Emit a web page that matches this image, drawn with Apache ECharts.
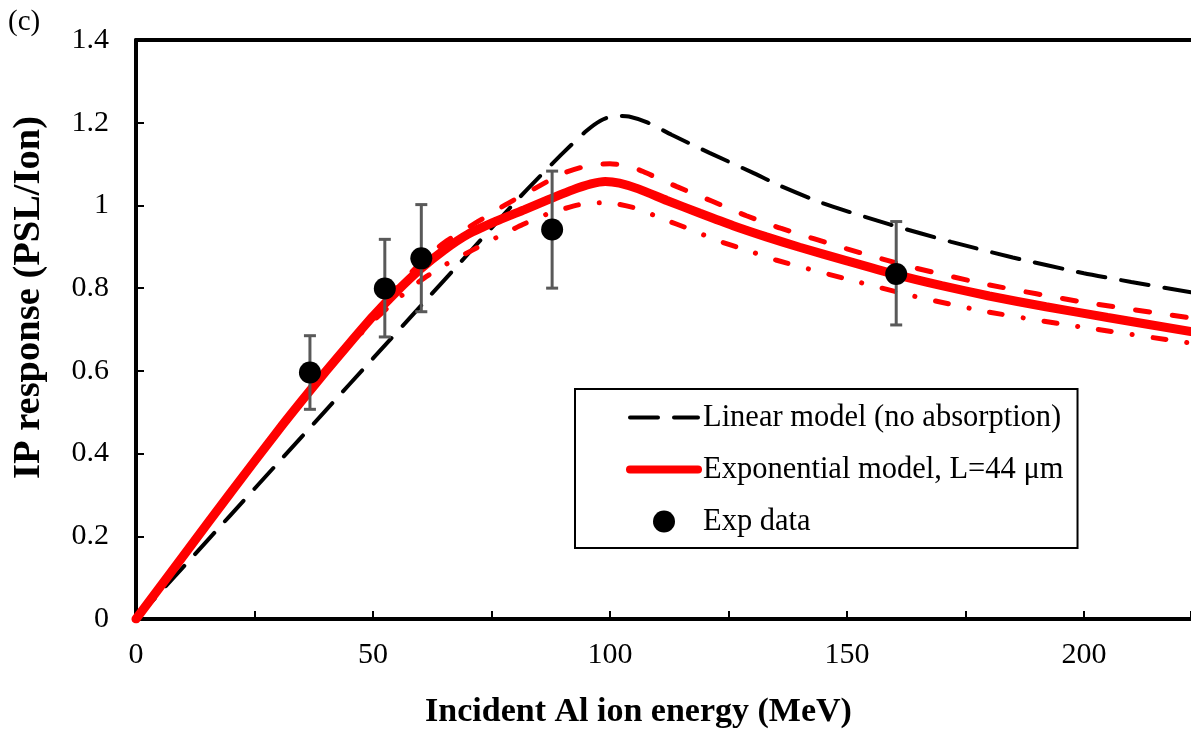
<!DOCTYPE html>
<html>
<head>
<meta charset="utf-8">
<script src="https://cdn.jsdelivr.net/npm/echarts@6/dist/echarts.min.js"></script>
<style>
  html, body { margin: 0; padding: 0; background: #fff; }
  #chart { width: 1191px; height: 734px; }
</style>
</head>
<body>
<div id="chart"></div>
<script>
// linear model (no absorption)
const linearE = [0, 10, 20, 30, 40, 50, 60, 70, 80, 85, 90, 95, 98, 101, 104, 108, 113, 121, 130, 136, 145, 159, 172, 185, 200, 210, 222.6]
const linearY = [0, 0.126, 0.252, 0.378, 0.504, 0.63, 0.756, 0.882, 1.008, 1.068, 1.126, 1.18, 1.205, 1.217, 1.215, 1.2, 1.171, 1.127, 1.08, 1.047, 1.005, 0.954, 0.912, 0.874, 0.836, 0.815, 0.79]

// exponential model, L=44 um
const expE = [0, 10, 20, 30, 35, 40, 45, 50, 55, 60, 65, 70, 76, 82, 87, 92, 96, 99, 102, 106, 112, 119, 126, 133, 140, 150, 160, 170, 180, 192, 205, 222.6]
const expY = [0, 0.153, 0.306, 0.456, 0.528, 0.598, 0.666, 0.732, 0.792, 0.846, 0.892, 0.93, 0.962, 0.99, 1.014, 1.037, 1.052, 1.058, 1.054, 1.04, 1.012, 0.981, 0.951, 0.924, 0.899, 0.866, 0.834, 0.806, 0.781, 0.755, 0.729, 0.695]

// upper / lower bounds
const upperE = [0, 10, 20, 30, 40, 45, 50, 55, 60, 65, 72, 78, 84, 90, 95, 100, 104, 107, 114, 121.6, 128.8, 136, 150, 164, 180, 200, 222.6]
const upperY = [0, 0.153, 0.306, 0.456, 0.598, 0.668, 0.738, 0.802, 0.86, 0.91, 0.96, 1.002, 1.04, 1.077, 1.095, 1.101, 1.095, 1.082, 1.046, 1.01, 0.975, 0.945, 0.895, 0.85, 0.808, 0.766, 0.728]
const lowerE = [0, 10, 20, 30, 40, 45, 50, 55, 60, 65, 71, 76, 81.6, 87, 93.6, 99.3, 105.6, 111, 117, 122.7, 128.8, 135, 150, 164, 180, 200, 222.6]
const lowerY = [0, 0.153, 0.306, 0.456, 0.596, 0.66, 0.72, 0.772, 0.818, 0.855, 0.892, 0.922, 0.954, 0.98, 1.002, 1.007, 0.993, 0.968, 0.942, 0.915, 0.892, 0.868, 0.822, 0.781, 0.742, 0.705, 0.667]

// experimental data
const dataE = [36.7, 52.5, 60.2, 87.8, 160.4]
const dataY = [0.596, 0.799, 0.872, 0.942, 0.834]
const errLow = [0.507, 0.682, 0.743, 0.8, 0.711]
const errHigh = [0.685, 0.918, 1.002, 1.083, 0.961]

const xTicks = [0, 50, 100, 150, 200]

const zip = (xs, ys) => xs.map((x, i) => [x, ys[i]])
const serif = 'Liberation Serif'
const linearDash = [28, 16]

const chart = echarts.init(document.getElementById('chart'))

chart.setOption({
  animation: false,
  graphic: [{
    type: 'text',
    left: 8,
    top: 8,
    style: { text: '(c)', font: '29px "Liberation Serif"', fill: '#000' }
  }],
  grid: {
    left: 136,
    right: 0,
    top: 40,
    bottom: 113
  },
  legend: {
    orient: 'vertical',
    left: 575,
    top: 389,
    padding: [13, 14, 11, 51],
    itemGap: 21,
    itemWidth: 68,
    itemHeight: 22,
    itemTextGap: 9,
    backgroundColor: '#fff',
    borderColor: '#000',
    borderWidth: 2,
    borderRadius: 0,
    textStyle: { fontFamily: serif, fontSize: 30.5, color: '#000' },
    data: [
      {
        name: 'Linear model (no absorption)',
        itemStyle: { opacity: 0 },
        lineStyle: { color: '#000', width: 4, type: linearDash, cap: 'round' }
      },
      {
        name: 'Exponential model, L=44 μm',
        itemStyle: { opacity: 0 },
        lineStyle: { color: '#ff0000', width: 8, type: 'solid', cap: 'round' }
      },
      { name: 'Exp data' }
    ]
  },
  xAxis: [{
    type: 'value',
    min: 0,
    max: 222.6,
    interval: 50,
    name: 'Incident Al ion energy (MeV)',
    nameLocation: 'middle',
    nameGap: 76,
    nameTextStyle: { fontFamily: serif, fontSize: 34, fontWeight: 'bold', color: '#000', padding: [0, 50, 0, 0] },
    axisLine: { lineStyle: { color: '#000', width: 4 } },
    axisTick: { inside: true, length: 8, lineStyle: { color: '#000', width: 2 } },
    minorTick: { show: true, splitNumber: 2, length: 8, lineStyle: { color: '#000', width: 2 } },
    splitLine: { show: false },
    axisLabel: {
      fontFamily: serif, fontSize: 30, color: '#000', margin: 21, showMaxLabel: false,
      formatter: v => xTicks.includes(v) ? String(v) : ''
    }
  }, {
    type: 'value',
    position: 'top',
    min: 0,
    max: 222.6,
    axisLine: { show: true, lineStyle: { color: '#000', width: 4 } },
    axisTick: { show: false },
    axisLabel: { show: false },
    splitLine: { show: false }
  }],
  yAxis: {
    type: 'value',
    min: 0,
    max: 1.4,
    interval: 0.2,
    name: 'IP response (PSL/Ion)',
    nameLocation: 'middle',
    nameGap: 87,
    nameTextStyle: { fontFamily: serif, fontSize: 38.5, fontWeight: 'bold', color: '#000', padding: [0, 0, 0, 64] },
    axisLine: { show: true, lineStyle: { color: '#000', width: 4 } },
    axisTick: { show: true, inside: true, length: 8, lineStyle: { color: '#000', width: 2 } },
    splitLine: { show: false },
    axisLabel: { fontFamily: serif, fontSize: 30, color: '#000', margin: 27 }
  },
  series: [
    {
      name: 'Linear model (no absorption)',
      type: 'line',
      data: zip(linearE, linearY),
      symbol: 'none',
      smooth: 0.2,
      color: '#000',
      lineStyle: { color: '#000', width: 4, type: linearDash, cap: 'round' },
      z: 2
    },
    {
      name: 'upper',
      type: 'line',
      data: zip(upperE, upperY),
      symbol: 'none',
      smooth: 0.2,
      lineStyle: { color: '#ff0000', width: 5, type: [14, 23], cap: 'round' },
      z: 2
    },
    {
      name: 'lower',
      type: 'line',
      data: zip(lowerE, lowerY),
      symbol: 'none',
      smooth: 0.2,
      lineStyle: { color: '#ff0000', width: 5, type: [13, 21, 0.1, 21], cap: 'round' },
      z: 2
    },
    {
      name: 'Exponential model, L=44 μm',
      type: 'line',
      data: zip(expE, expY),
      symbol: 'none',
      smooth: 0.2,
      color: '#ff0000',
      lineStyle: { color: '#ff0000', width: 9, cap: 'round' },
      z: 3
    },
    {
      name: 'errors',
      type: 'custom',
      data: dataE.map((e, i) => [e, errLow[i], errHigh[i]]),
      renderItem: (params, api) => {
        const lo = api.coord([api.value(0), api.value(1)])
        const hi = api.coord([api.value(0), api.value(2)])
        const w = 6
        const st = { stroke: '#595959', lineWidth: 3 }
        return {
          type: 'group',
          children: [
            { type: 'line', shape: { x1: lo[0], y1: lo[1], x2: hi[0], y2: hi[1] }, style: st },
            { type: 'line', shape: { x1: lo[0] - w, y1: lo[1], x2: lo[0] + w, y2: lo[1] }, style: st },
            { type: 'line', shape: { x1: hi[0] - w, y1: hi[1], x2: hi[0] + w, y2: hi[1] }, style: st }
          ]
        }
      },
      z: 4
    },
    {
      name: 'Exp data',
      type: 'scatter',
      data: zip(dataE, dataY),
      symbol: 'circle',
      symbolSize: 22,
      itemStyle: { color: '#000', opacity: 1 },
      z: 5
    }
  ]
})
</script>
</body>
</html>
